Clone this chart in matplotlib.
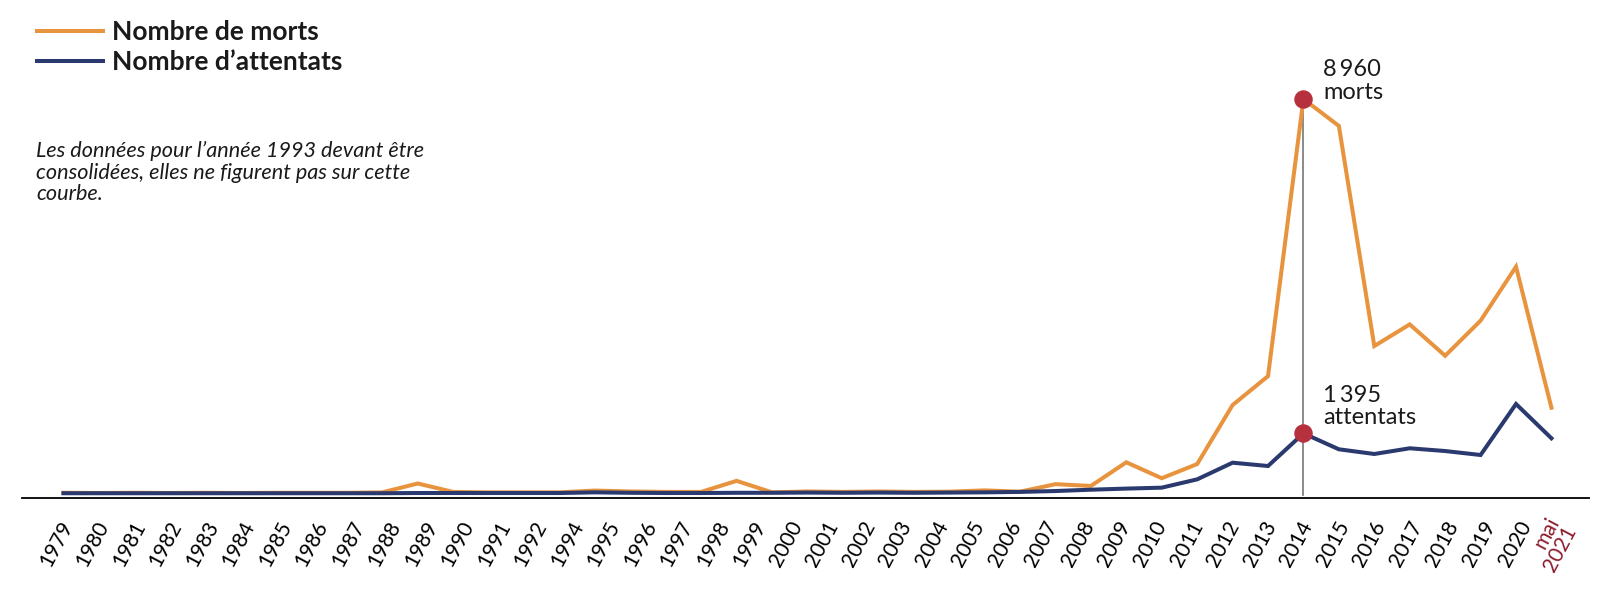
import matplotlib.pyplot as plt
import numpy as np

# données (1993 incluse sur l'axe des points, absente des libellés)
annees = list(range(1979, 2022))
morts = [50, 45, 50, 45, 50, 45, 50, 50, 50, 60,
         260, 70, 60, 60, 60, 100, 80, 70, 70, 320,
         60, 80, 70, 80, 70, 75, 105, 75, 245, 205,
         740, 380, 700, 2035, 2690, 8960, 8350, 3370, 3860, 3150,
         3945, 5165, 1975]
attentats = [40, 40, 40, 40, 40, 40, 40, 40, 40, 40,
             45, 45, 45, 45, 45, 60, 50, 45, 45, 50,
             50, 55, 50, 55, 50, 55, 60, 70, 90, 120,
             145, 166, 354, 731, 656, 1395, 1034, 928, 1057, 995,
             905, 2059, 1283]
libelles = [str(a) for a in range(1979, 1993)] + [str(a) for a in range(1994, 2021)] + ['mai\n2021']

ORANGE = '#E8943F'
MARINE = '#2B3A6E'
ROUGE = '#B7303E'
TEXTE = '#1a1a1a'

plt.rcParams['font.family'] = ['Lato', 'DejaVu Sans']
plt.rcParams['text.color'] = TEXTE

W, H = 1616, 590
fig = plt.figure(figsize=(W / 100, H / 100), dpi=100)
ax = fig.add_axes([22 / W, (H - 497.7) / H, 1567 / W, (497.7 - 40) / H])

x = np.arange(len(annees))
ax.plot(x, morts, color=ORANGE, lw=2.9, solid_joinstyle='miter', label='Nombre de morts', zorder=3)
ax.plot(x, attentats, color=MARINE, lw=2.9, solid_joinstyle='miter', label='Nombre d\u2019attentats', zorder=4)

# pic de 2014
i = annees.index(2014)
ax.plot([i, i], [0, morts[i]], color='#777777', lw=1.2, zorder=2)
ax.plot([i, i], [morts[i], attentats[i]], 'o', color=ROUGE, ms=12.3, zorder=5)
ax.annotate('8\u2009960\nmorts', (i, morts[i]), xytext=(20, 0), textcoords='offset pixels',
            ha='left', va='baseline', fontsize=17, linespacing=1.12)
ax.annotate('1\u2009395\nattentats', (i, attentats[i]), xytext=(20, 9), textcoords='offset pixels',
            ha='left', va='baseline', fontsize=17, linespacing=1.05)

ax.set_xlim(-1.17, 43.06)
ax.set_ylim(-61, 10294)
ax.set_yticks([])
for s in ['left', 'right', 'top']:
    ax.spines[s].set_visible(False)
ax.spines['bottom'].set_color('black')
ax.spines['bottom'].set_linewidth(1.3)

ax.set_xticks(np.linspace(0.12, 42.33, len(libelles)))
ax.set_xticklabels(libelles, rotation=62, ha='right', va='center', rotation_mode='anchor',
                   fontsize=15, linespacing=1.0)
ax.tick_params(axis='x', length=0, pad=18)
ax.get_xticklabels()[-1].set_color('#8B1C2C')

ax.legend(loc='upper left', bbox_to_anchor=(37 / W, 1 - 20 / H), bbox_transform=fig.transFigure,
          frameon=False, prop={'weight': 'bold', 'size': 19}, handlelength=2.5,
          handletextpad=0.33, labelspacing=0.22, borderpad=0, borderaxespad=0)

fig.text(36 / W, 1 - 141 / H,
         'Les données pour l\u2019année 1993 devant être\nconsolidées, elles ne figurent pas sur cette\ncourbe.',
         style='italic', fontsize=15.6, va='top', ha='left', linespacing=1.1)

fig.savefig('out.png', dpi=100)
